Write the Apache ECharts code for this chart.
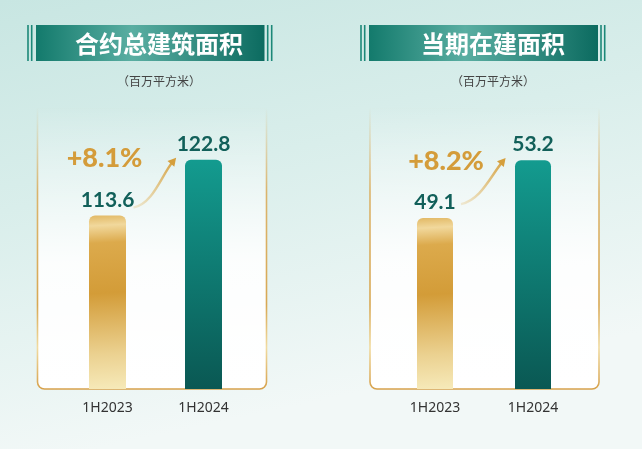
<!DOCTYPE html>
<html><head><meta charset="utf-8">
<script src="https://cdn.jsdelivr.net/npm/echarts@6/dist/echarts.min.js"></script>
<style>html,body{margin:0;padding:0;background:#fff}#c{width:642px;height:449px;}</style>
</head><body><div id="c"></div>
<script>
const categories = ['1H2023', '1H2024'];
const contractArea = [113.6, 122.8];
const constructionArea = [49.1, 53.2];
const growthLabels = ['+8.1%', '+8.2%'];
const panelTitles = ['合约总建筑面积', '当期在建面积'];
const unitLabel = '（百万平方米）';

const chart = echarts.init(document.getElementById('c'), null, {renderer: 'canvas'});
const G = echarts.graphic;
const goldBar = () => new G.LinearGradient(0, 0, 0.25, 1, [
  {offset: 0, color: '#e2b965'}, {offset: 0.06, color: '#f1d89c'}, {offset: 0.16, color: '#dcaa4c'},
  {offset: 0.45, color: '#d39c38'}, {offset: 0.8, color: '#ebd190'}, {offset: 1, color: '#f6e9b8'}]);
const tealBar = () => new G.LinearGradient(0, 0, 0, 1, [
  {offset: 0, color: '#139b8f'}, {offset: 1, color: '#0a5853'}]);

const panels = [
  {values: contractArea, min: 85, max: 133, grid: {left: 59.5, width: 192}, barWidth: 37,
   box: {x: 37.5, w: 229}, banner: {x: 36, w: 228.5, l1: 28, l2: 31.7, r1: 267.7, r2: 271.7}, cx: 154, gx: -3},
  {values: constructionArea, min: 37, max: 57.6, grid: {left: 386, width: 196}, barWidth: 36,
   box: {x: 370, w: 229}, banner: {x: 369, w: 229, l1: 361, l2: 364.7, r1: 601, r2: 604.7}, cx: 488, gx: 11}
];

const grids = [], xAxes = [], yAxes = [], series = [], titles = [];
panels.forEach((p, i) => {
  grids.push({left: p.grid.left, width: p.grid.width, top: 98, bottom: 60});
  xAxes.push({type: 'category', gridIndex: i, data: categories,
    axisLine: {show: false}, axisTick: {show: false},
    axisLabel: {color: '#333', fontSize: 14, margin: 12, fontFamily: 'Noto Sans'}});
  yAxes.push({type: 'value', gridIndex: i, min: p.min, max: p.max, show: false, splitLine: {show: false}});
  series.push({type: 'bar', xAxisIndex: i, yAxisIndex: i, barWidth: p.barWidth,
    data: p.values.map((v, j) => ({value: v, itemStyle: {color: j === 0 ? goldBar() : tealBar(), borderRadius: [6, 6, 0, 0]}})),
    label: {show: true, position: 'top', distance: 5, color: '#12605a', fontSize: 21, fontWeight: 'bold', fontFamily: 'Lato'}});
  titles.push({text: panelTitles[i], left: p.cx, top: 39, textAlign: 'center', textVerticalAlign: 'middle',
    textStyle: {color: '#fff', fontSize: 24, fontWeight: 'bold', fontFamily: '"Noto Sans CJK SC"'}});
  titles.push({text: unitLabel, left: p.cx, top: 76, textAlign: 'center', textVerticalAlign: 'middle',
    textStyle: {color: '#444', fontSize: 12, fontWeight: 'normal', fontFamily: '"Noto Sans CJK SC"'}});
});

function baseGraphics() {
  const els = [{type: 'rect', id: 'bg', z: -10, shape: {x: 0, y: 0, width: 642, height: 449},
    style: {fill: new G.LinearGradient(0, 0, 0.15, 1, [{offset: 0, color: '#c8e6e2'}, {offset: 0.45, color: '#d9eeeb'}, {offset: 1, color: '#f2f8f7'}])}}];
  panels.forEach((p, i) => {
    const b = p.banner;
    els.push({type: 'rect', id: 'box' + i, z: -5, shape: {x: p.box.x, y: 108, width: p.box.w, height: 281, r: [0, 0, 7, 7]},
      style: {fill: new G.LinearGradient(0, 0, 0, 1, [{offset: 0, color: 'rgba(255,255,255,0)'}, {offset: 0.55, color: 'rgba(255,255,255,0.9)'}, {offset: 1, color: '#ffffff'}]),
        stroke: new G.LinearGradient(0, 0, 0, 1, [{offset: 0, color: 'rgba(217,169,85,0)'}, {offset: 0.3, color: 'rgba(217,169,85,0.85)'}, {offset: 0.7, color: '#d8a853'}, {offset: 0.85, color: '#f1dba0'}, {offset: 1, color: '#d6a04a'}]),
        lineWidth: 1.6}});
    els.push({type: 'rect', id: 'ban' + i, z: -4, shape: {x: b.x, y: 25, width: b.w, height: 36},
      style: {fill: new G.LinearGradient(0, 0, 1, 0, [{offset: 0, color: '#137a6c'}, {offset: 0.42, color: '#5aaea2'}, {offset: 1, color: '#0c6b60'}])}});
    [b.l1, b.l2, b.r1, b.r2].forEach((x, k) => {
      els.push({type: 'line', id: 'bl' + i + '_' + k, z: -4, shape: {x1: x, y1: 25, x2: x, y2: 61},
        style: {stroke: '#1c8878', lineWidth: 1.6}});
    });
  });
  return els;
}

chart.setOption({
  animation: false,
  title: titles, grid: grids, xAxis: xAxes, yAxis: yAxes, series: series,
  graphic: baseGraphics()
});

const extra = [];
panels.forEach((p, i) => {
  const g = chart.convertToPixel({xAxisIndex: i, yAxisIndex: i}, [0, p.values[0]]);
  const t = chart.convertToPixel({xAxisIndex: i, yAxisIndex: i}, [1, p.values[1]]);
  const sx = g[0] + 26, sy = g[1] - 8 - (i === 1 ? 6 : 0);
  const ex = t[0] - 30, ey = t[1] + 1;
  const c2x = ex - 12, c2y = ey + 14;
  extra.push({type: 'bezierCurve', id: 'arc' + i, z: 5,
    shape: {x1: sx, y1: sy, cpx1: sx + 20, cpy1: sy - 4, cpx2: c2x, cpy2: c2y, x2: ex, y2: ey},
    style: {stroke: new G.LinearGradient(0, 1, 1, 0, [{offset: 0, color: 'rgba(226,180,90,0.2)'}, {offset: 1, color: '#d59f3c'}]), lineWidth: 2.4, fill: null}});
  const dx = ex - c2x, dy = ey - c2y, L = Math.hypot(dx, dy), ux = dx / L, uy = dy / L;
  const tipx = ex + ux * 4, tipy = ey + uy * 4, bx = ex - ux * 4, by = ey - uy * 4;
  extra.push({type: 'polygon', id: 'ah' + i, z: 5,
    shape: {points: [[tipx, tipy], [bx - uy * 4.5, by + ux * 4.5], [bx + uy * 4.5, by - ux * 4.5]]},
    style: {fill: '#d59f3c'}});
  extra.push({type: 'text', id: 'gr' + i, z: 5,
    style: {text: growthLabels[i], x: g[0] + p.gx, y: g[1] - 57, align: 'center', verticalAlign: 'middle',
      font: '900 27px Lato', fill: '#d49c3a'}});
});
chart.setOption({graphic: baseGraphics().concat(extra)});
</script>
</body></html>
